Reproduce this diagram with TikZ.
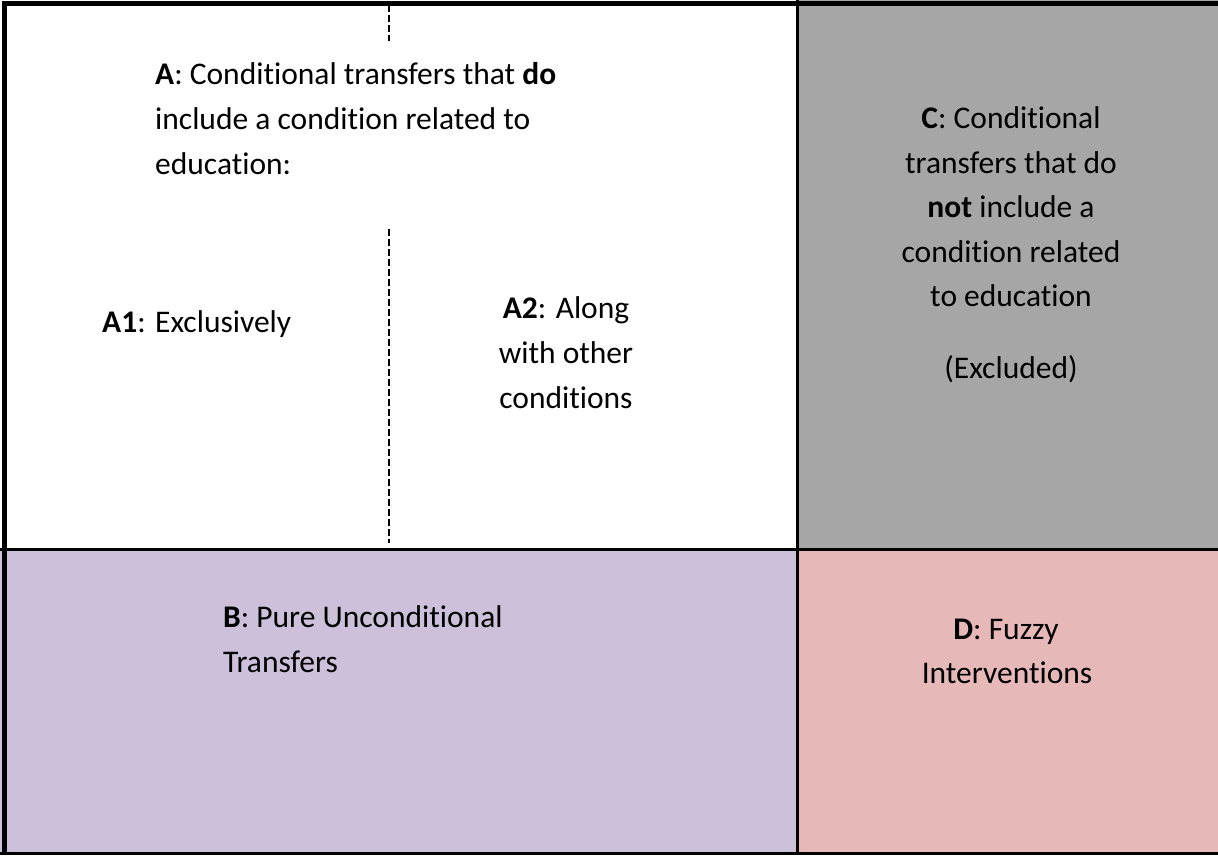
\documentclass[tikz,border=0pt]{standalone}
\usepackage{fontspec}
\setmainfont{Carlito}[Ligatures={NoCommon}]
\definecolor{cgray}{HTML}{A6A6A6}
\definecolor{bpurple}{HTML}{CCC0DA}
\definecolor{dpink}{HTML}{E6B8B7}
\begin{document}
\begin{tikzpicture}[x=1pt,y=-1pt,
  txt/.style={inner sep=0pt, font=\fontsize{31.5}{44}\selectfont},
  lw/.style={anchor=base west, txt},
  lc/.style={anchor=base, txt},
  frame/.style={line width=5pt, black},
  divider/.style={line width=3.5pt, black},
  dashline/.style={line width=2.5pt, black, dash pattern=on 6.5pt off 3.5pt}]
\useasboundingbox (0,0) rectangle (1218,855);
% fills
\fill[white] (0,0) rectangle (797.5,549.5);
\fill[cgray] (797.5,0) rectangle (1218,549.5);
\fill[bpurple] (0,549.5) rectangle (797.5,855);
\fill[dpink] (797.5,549.5) rectangle (1218,855);
% frame
\draw[frame] (4,855) -- (4,3.5) -- (1218,3.5);
\draw[line width=2.5pt] (0,853.5) -- (1218,853.5);
\draw[divider] (797.5,0) -- (797.5,855);
\draw[divider] (0,549.5) -- (1218,549.5);
% dashed lines
\coordinate (d1a) at (389,5);
\coordinate (d1b) at (389,41);
\coordinate (d2a) at (389,229);
\coordinate (d2b) at (389,543);
\draw[dashline] (d1a) -- (d1b);
\draw[dashline] (d2a) -- (d2b);
% A
\node[lw] (a1) at (155,84) {\textbf{A}: Conditional transfers that \textbf{do}};
\node[lw] (a2) at (155,129) {include a condition related to};
\node[lw] (a3) at (155,174) {education:};
% A1
\node[lw] (aa1) at (102,332) {\textbf{A1}: Exclusively};
% A2
\node[lc] (ab1) at (566,318) {\textbf{A2}: Along};
\node[lc] (ab2) at (566,363) {with other};
\node[lc] (ab3) at (566,408) {conditions};
% C
\node[lc] (c1) at (1011,128) {\textbf{C}: Conditional};
\node[lc] (c2) at (1011,173) {transfers that do};
\node[lc] (c3) at (1011,217) {\textbf{not} include a};
\node[lc] (c4) at (1011,262) {condition related};
\node[lc] (c5) at (1011,306) {to education};
\node[lc] (c6) at (1011,378) {(Excluded)};
% B
\node[lw] (b1) at (223,627) {\textbf{B}: Pure Unconditional};
\node[lw] (b2) at (223,672) {Transfers};
% D
\node[lc] (dd1) at (1006,639) {\textbf{D}: Fuzzy};
\node[lc] (dd2) at (1007,683) {Interventions};
\end{tikzpicture}
\end{document}
